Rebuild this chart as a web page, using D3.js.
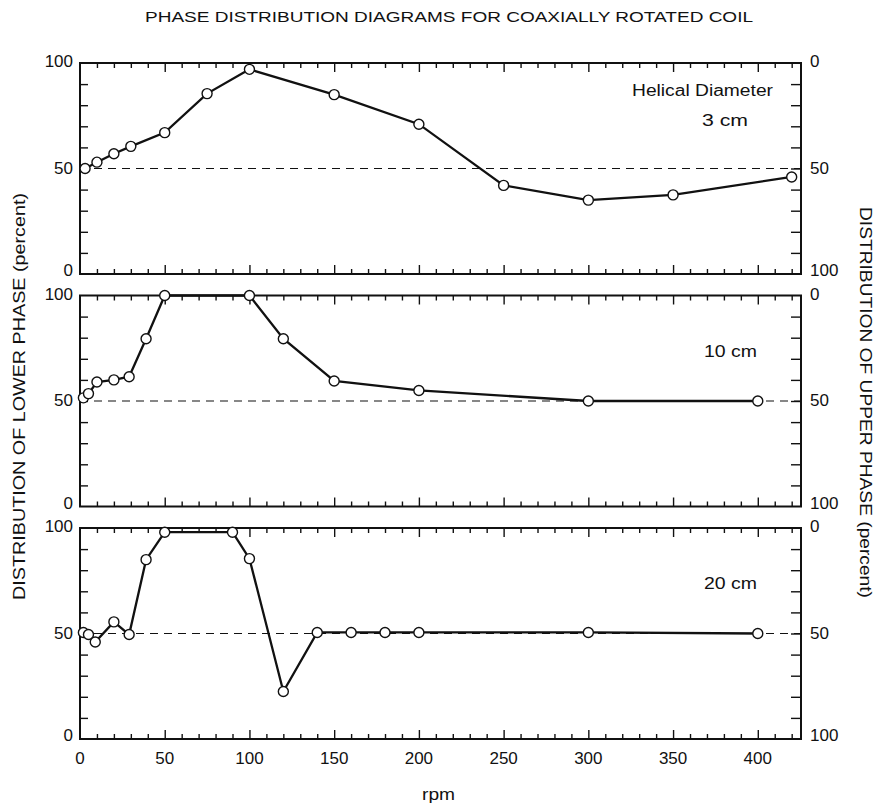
<!DOCTYPE html>
<html>
<head>
<meta charset="utf-8">
<script src="https://cdn.jsdelivr.net/npm/d3@7"></script>
<style>
  body { margin: 0; background: #fff; }
  text { font-family: "Liberation Sans", Arial, sans-serif; fill: #111; }
</style>
</head>
<body>
<div class="canvas"></div>
<script>
// data
const rpm3 = [3, 10, 20, 30, 50, 75, 100, 150, 200, 250, 300, 350, 420];
const val3 = [50, 53, 57, 60.5, 67, 85.5, 97, 85, 71, 42, 35, 37.5, 46];

const rpm10 = [2, 5, 10, 20, 29, 39, 50, 100, 120, 150, 200, 300, 400];
const val10 = [51.5, 53.5, 59, 60, 61.5, 79.5, 100, 100, 79.5, 59.5, 55, 50, 50];

const rpm20 = [2, 5, 9, 20, 29, 39, 50, 90, 100, 120, 140, 160, 180, 200, 300, 400];
const val20 = [50.5, 49.5, 46, 55.5, 49.5, 85, 98, 98, 85.5, 22.5, 50.5, 50.5, 50.5, 50.5, 50.5, 50];

const panels = [
  { rpm: rpm3, val: val3, label: ['Helical Diameter', '3 cm'] },
  { rpm: rpm10, val: val10, label: ['10 cm'] },
  { rpm: rpm20, val: val20, label: ['20 cm'] }
];

const xTicks = [0, 50, 100, 150, 200, 250, 300, 350, 400];
const yTicks = [0, 50, 100];

const svg = d3.select('.canvas')
    .append('svg')
    .attr('width', 881)
    .attr('height', 805);

const left = 80, right = 801;
const tops = [63, 295.5, 528];
const ph = 211;

const x = d3.scaleLinear()
    .domain([0, 425.5])
    .range([left, right]);

// title (the original lettering is wider than Liberation Sans, so stretch it)
svg.append('text')
    .attr('x', 145).attr('y', 22)
    .attr('font-size', 15.5)
    .attr('textLength', 608)
    .attr('lengthAdjust', 'spacingAndGlyphs')
    .text('PHASE DISTRIBUTION DIAGRAMS FOR COAXIALLY ROTATED COIL');

panels.forEach((p, i) => {
    const top = tops[i];
    const y = d3.scaleLinear().domain([0, 100]).range([top + ph, top]);
    const yr = d3.scaleLinear().domain([0, 100]).range([top, top + ph]);
    const g = svg.append('g');

    // frame
    g.append('rect')
        .attr('x', left).attr('y', top)
        .attr('width', right - left).attr('height', ph)
        .attr('fill', 'none').attr('stroke', '#111').attr('stroke-width', 2);

    // x ticks, inward at top and bottom
    const minorX = d3.range(10, 425, 10).filter(d => d % 50 !== 0);
    ['bottom', 'top'].forEach(side => {
        const yy = side === 'bottom' ? top + ph : top;
        const axMaj = (side === 'bottom' ? d3.axisBottom(x) : d3.axisTop(x))
            .tickValues(xTicks.slice(1)).tickSize(-9).tickFormat('');
        const axMin = (side === 'bottom' ? d3.axisBottom(x) : d3.axisTop(x))
            .tickValues(minorX).tickSize(-5).tickFormat('');
        [axMaj, axMin].forEach(ax => {
            const a = g.append('g').attr('transform', `translate(0,${yy})`).call(ax);
            a.select('.domain').remove();
            a.selectAll('line').attr('stroke', '#111').attr('stroke-width', 1.4);
        });
    });

    // y ticks, left and right, inward
    const minorY = d3.range(10, 100, 10);
    const la = g.append('g').attr('transform', `translate(${left},0)`)
        .call(d3.axisLeft(y).tickValues(minorY).tickSize(-8).tickFormat(''));
    la.select('.domain').remove();
    la.selectAll('line').attr('stroke', '#111').attr('stroke-width', 1.4);
    const ra = g.append('g').attr('transform', `translate(${right},0)`)
        .call(d3.axisRight(yr).tickValues(minorY).tickSize(-10).tickFormat(''));
    ra.select('.domain').remove();
    ra.selectAll('line').attr('stroke', '#111').attr('stroke-width', 1.4);

    // y tick labels
    g.selectAll('.ylab').data(yTicks).enter().append('text')
        .attr('x', left - 7)
        .attr('y', d => y(d) + (d === 0 ? 2 : d === 100 ? 4 : 5))
        .attr('text-anchor', 'end')
        .attr('font-size', 17)
        .text(d => d);
    g.selectAll('.yrlab').data(yTicks).enter().append('text')
        .attr('x', right + 9)
        .attr('y', d => yr(d) + (d === 0 ? 4 : d === 100 ? 2 : 5))
        .attr('font-size', 17)
        .text(d => d);

    // dashed 50% line
    g.append('line')
        .attr('x1', left).attr('x2', right)
        .attr('y1', y(50)).attr('y2', y(50))
        .attr('stroke', '#111').attr('stroke-width', 1.1)
        .attr('stroke-dasharray', '8,6');

    const pts = p.rpm.map((r, j) => [r, p.val[j]]);
    g.append('path')
        .datum(pts)
        .attr('fill', 'none')
        .attr('stroke', '#111')
        .attr('stroke-width', 2.3)
        .attr('d', d3.line().x(d => x(d[0])).y(d => y(d[1])));

    g.selectAll('circle').data(pts).enter().append('circle')
        .attr('cx', d => x(d[0])).attr('cy', d => y(d[1]))
        .attr('r', 5)
        .attr('fill', '#fff').attr('stroke', '#111').attr('stroke-width', 1.4);

    // panel labels
    const lab = (txt, x0, yb, w) => g.append('text')
        .attr('x', x0).attr('y', yb)
        .attr('font-size', 16)
        .attr('textLength', w)
        .attr('lengthAdjust', 'spacingAndGlyphs')
        .text(txt);
    if (p.label.length === 2) {
        lab(p.label[0], 632, top + 33, 141);
        lab(p.label[1], 702, top + 63, 46);
    } else {
        lab(p.label[0], 704, top + 61, 53);
    }

    // x tick labels on bottom panel
    if (i === panels.length - 1) {
        g.selectAll('.xlab').data(xTicks).enter().append('text')
            .attr('x', d => x(d))
            .attr('y', top + ph + 25)
            .attr('text-anchor', 'middle')
            .attr('font-size', 17)
            .text(d => d);
    }
});

// axis titles
svg.append('text')
    .attr('x', 422).attr('y', 800)
    .attr('font-size', 16)
    .attr('textLength', 33)
    .attr('lengthAdjust', 'spacingAndGlyphs')
    .text('rpm');

svg.append('text')
    .attr('transform', 'translate(25,600) rotate(-90)')
    .attr('font-size', 17)
    .attr('textLength', 407)
    .attr('lengthAdjust', 'spacingAndGlyphs')
    .text('DISTRIBUTION OF LOWER PHASE (percent)');

svg.append('text')
    .attr('transform', 'translate(860,207) rotate(90)')
    .attr('font-size', 17)
    .attr('textLength', 391)
    .attr('lengthAdjust', 'spacingAndGlyphs')
    .text('DISTRIBUTION OF UPPER PHASE (percent)');
</script>
</body>
</html>
